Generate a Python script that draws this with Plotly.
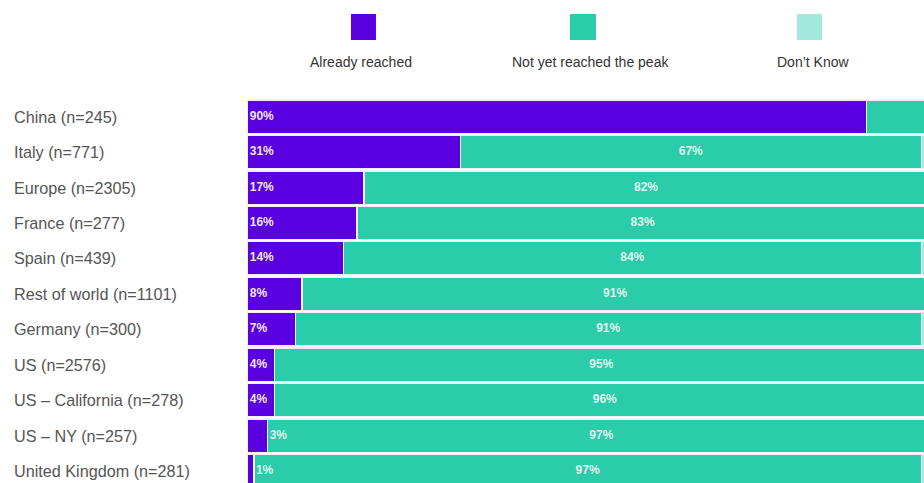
import plotly.graph_objects as go

categories = ["China (n=245)", "Italy (n=771)", "Europe (n=2305)", "France (n=277)",
              "Spain (n=439)", "Rest of world (n=1101)", "Germany (n=300)", "US (n=2576)",
              "US \u2013 California (n=278)", "US \u2013 NY (n=257)", "United Kingdom (n=281)"]
already = [90, 31, 17, 16, 14, 8, 7, 4, 4, 3, 1]
not_yet = [9, 67, 82, 83, 84, 91, 91, 95, 96, 97, 97]
dont_know = [1, 2, 1, 1, 2, 1, 2, 1, 0, 0, 2]
already_labels = ["90%", "31%", "17%", "16%", "14%", "8%", "7%", "4%", "4%", "3%", "1%"]
not_yet_labels = ["", "67%", "82%", "83%", "84%", "91%", "91%", "95%", "96%", "97%", "97%"]
series_names = ["Already reached", "Not yet reached the peak", "Don\u2019t Know"]

PURPLE = "#5a00e0"
TEAL = "#2bcca9"
LIGHT = "#a3eadb"
FONT = "Liberation Sans, Arial, sans-serif"

fig = go.Figure()
for name, vals, col in zip(series_names, [already, not_yet, dont_know], [PURPLE, TEAL, LIGHT]):
    fig.add_trace(go.Bar(y=categories, x=vals, orientation="h", name=name,
                         marker=dict(color=col, line=dict(color="#f2eeff", width=1.3)),
                         hoverinfo="skip"))

# purple labels: inside at the start; small ones just beyond the bar end
lab_x = [0.4 if v >= 4 else v + 0.3 for v in already]
lab_col = ["#efe6ff" if v >= 4 else "#dff6ef" for v in already]
fig.add_trace(go.Scatter(x=lab_x, y=categories, mode="text", text=already_labels,
                         textposition="middle right",
                         textfont=dict(color=lab_col, size=12, family=FONT, weight="bold"),
                         hoverinfo="skip", showlegend=False))
# teal labels: centred in the teal segment
mid_x = [a + n / 2 for a, n in zip(already, not_yet)]
fig.add_trace(go.Scatter(x=mid_x, y=categories, mode="text", text=not_yet_labels,
                         textposition="middle center",
                         textfont=dict(color="#dff6ef", size=12, family=FONT, weight="bold"),
                         hoverinfo="skip", showlegend=False))

# category labels, left aligned
for c in categories:
    fig.add_annotation(x=-0.3471, xref="paper", y=c, yref="y", text=c, showarrow=False,
                       xanchor="left", font=dict(size=16.2, color="#555555", family=FONT))

# custom legend: squares above labels
leg_sq = [(0.1536, 0.1905), (0.4771, 0.5155), (0.8124, 0.8493)]
leg_tx = [0.1684, 0.508, 0.836]
for (x0, x1), tx, name, col in zip(leg_sq, leg_tx, series_names, [PURPLE, TEAL, LIGHT]):
    fig.add_shape(type="rect", xref="paper", yref="paper", x0=x0, x1=x1, y0=1.1536, y1=1.2214,
                  fillcolor=col, line=dict(width=0))
    fig.add_annotation(x=tx, xref="paper", y=1.0964, yref="paper", text=name, showarrow=False,
                       xanchor="center", yanchor="middle",
                       font=dict(size=14, color="#333333", family=FONT))

fig.update_layout(
    width=924, height=483,
    margin=dict(l=247, r=0, t=99, b=0),
    barmode="stack", bargap=0.06,
    plot_bgcolor="white", paper_bgcolor="white",
    showlegend=False,
    font=dict(family=FONT),
    xaxis=dict(range=[0, 98.4], showgrid=False, zeroline=False, showticklabels=False,
               fixedrange=True),
    yaxis=dict(categoryorder="array", categoryarray=categories, range=[10.34, -0.5],
               showgrid=False, zeroline=False, showticklabels=False),
)

fig.write_html("out.html", config={"displayModeBar": False},
               post_script="document.body.style.margin='0';document.body.style.overflow='hidden';")
